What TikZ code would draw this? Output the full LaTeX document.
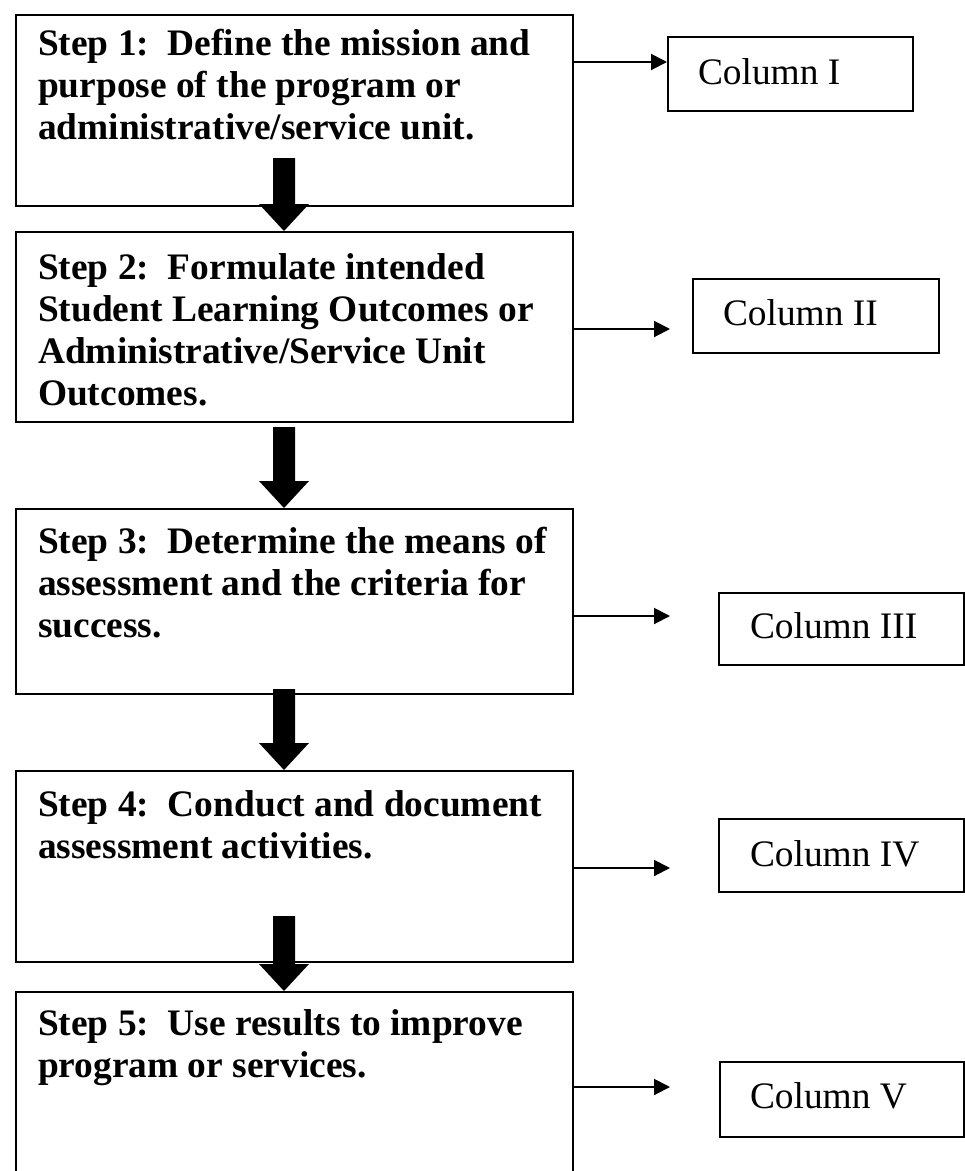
\documentclass[tikz,border=0pt]{standalone}
\usepackage{fontspec}
\setmainfont{Liberation Serif}
\usetikzlibrary{arrows.meta,calc}
\newcommand{\steptxt}[3]{\parbox[c][#1][t]{557pt}{\raggedright\leftskip=22pt\fontsize{37.4pt}{42pt}\selectfont\bfseries\rule{0pt}{#2}#3}}
\newcommand{\coltxt}[5]{\parbox[c][#2][t]{#1}{\fontsize{37.4pt}{42pt}\selectfont\hspace*{#3}\rule{0pt}{#4}#5}}
\newcommand{\blockarrow}[2]{\fill let \p1=(#1), \p2=(#2) in (\x1-11pt,\y1) -- (\x1+11pt,\y1) -- (\x1+11pt,\y2+27pt) -- (\x1+25pt,\y2+27pt) -- (\x1,\y2) -- (\x1-25pt,\y2+27pt) -- (\x1-11pt,\y2+27pt) -- cycle;}
\begin{document}
\begin{tikzpicture}[x=1pt,y=1pt,
  stepbox/.style={draw, line width=2.2pt, inner sep=0pt, anchor=north west},
  colbox/.style={draw, line width=2pt, inner sep=0pt, anchor=north west},
  conn/.style={line width=2pt, -{Triangle[length=16pt,width=16pt]}}]
\useasboundingbox (0,0) rectangle (965,-1171);
\clip (0,0) rectangle (965,-1171);
% step boxes
\node[stepbox] (s1) at (15,-14) {\steptxt{191pt}{40pt}{Step 1:\ \ Define the mission and\\purpose of the program or\\administrative/service unit.}};
\node[stepbox] (s2) at (15,-231) {\steptxt{190pt}{47pt}{Step 2:\ \ Formulate intended\\Student Learning Outcomes or\\Administrative/Service Unit\\Outcomes.}};
\node[stepbox] (s3) at (15,-508) {\steptxt{185pt}{44pt}{Step 3:\ \ Determine the means of\\assessment and the criteria for\\success.}};
\node[stepbox] (s4) at (15,-770) {\steptxt{191pt}{45pt}{Step 4:\ \ Conduct and document\\assessment activities.}};
\node[stepbox] (s5) at (15,-991) {\steptxt{200pt}{43pt}{Step 5:\ \ Use results to improve\\program or services.}};
% column boxes
\node[colbox] (c1) at (667,-36) {\coltxt{245pt}{74pt}{30pt}{47pt}{Column I}};
\node[colbox] (c2) at (692,-278) {\coltxt{246pt}{74pt}{30pt}{46pt}{Column II}};
\node[colbox] (c3) at (718,-592) {\coltxt{245pt}{72pt}{31pt}{45pt}{Column III}};
\node[colbox] (c4) at (718,-818) {\coltxt{245pt}{73pt}{31pt}{47pt}{Column IV}};
\node[colbox] (c5) at (719,-1061) {\coltxt{244pt}{75pt}{30pt}{46pt}{Column V}};
% horizontal connectors
\coordinate (h1) at (0,-62);
\draw[conn] (s1.east |- h1) -- (c1.west |- h1);
\coordinate (h2) at (670,-329);
\draw[conn] (s2.east |- h2) -- (h2);
\coordinate (h3) at (670,-616);
\draw[conn] (s3.east |- h3) -- (h3);
\coordinate (h4) at (670,-868);
\draw[conn] (s4.east |- h4) -- (h4);
\coordinate (h5) at (670,-1087);
\draw[conn] (s5.east |- h5) -- (h5);
% block arrows between steps
\coordinate (a1) at (284,-158);
\coordinate (a2) at (284,-427);
\coordinate (a3) at (284,-689);
\coordinate (a4) at (284,-916);
\blockarrow{a1}{s2.north}
\blockarrow{a2}{s3.north}
\blockarrow{a3}{s4.north}
\blockarrow{a4}{s5.north}
\end{tikzpicture}
\end{document}
